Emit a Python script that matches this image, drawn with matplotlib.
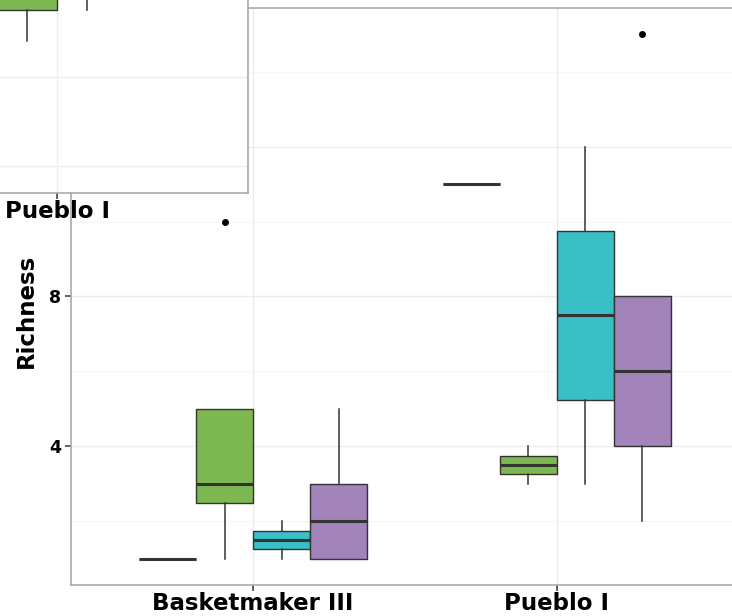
import matplotlib
matplotlib.use("Agg")
import matplotlib.pyplot as plt
from matplotlib.lines import Line2D
from matplotlib.ticker import MultipleLocator

plt.rcParams['font.family'] = ['DejaVu Sans']

# ---------------- data ----------------
categories = ['Basketmaker III', 'Pueblo I']
groups = ['Group A', 'Group B', 'Group C', 'Group D']
group_colors = ['#F8766D', '#7CB750', '#39BFC5', '#A283BA']

# per group: [Basketmaker III, Pueblo I]
q1 = {'Group A': [1.0, 11.0], 'Group B': [2.5, 3.25], 'Group C': [1.25, 5.25], 'Group D': [1.0, 4.0]}
med = {'Group A': [1.0, 11.0], 'Group B': [3.0, 3.5], 'Group C': [1.5, 7.5], 'Group D': [2.0, 6.0]}
q3 = {'Group A': [1.0, 11.0], 'Group B': [5.0, 3.75], 'Group C': [1.75, 9.75], 'Group D': [3.0, 8.0]}
whislo = {'Group A': [1.0, 11.0], 'Group B': [1.0, 3.0], 'Group C': [1.0, 3.0], 'Group D': [1.0, 2.0]}
whishi = {'Group A': [1.0, 11.0], 'Group B': [5.0, 4.0], 'Group C': [2.0, 12.0], 'Group D': [5.0, 8.0]}
fliers = {'Group A': [[], []], 'Group B': [[10.0], []], 'Group C': [[], []], 'Group D': [[], [15.0]]}

y_ticks = [4, 8, 12]
y_label = 'Richness'

# inset panel (partially visible, Pueblo I only)
inset_tick_labels = ['', 'Pueblo I']
inset_groups = ['Group B', 'Group C', 'Group D']
inset_q1 = [13.5, 15.0, 15.5]
inset_med = [14.8, 16.0, 16.5]
inset_q3 = [16.0, 17.0, 17.5]
inset_whislo = [12.8, 13.5, 15.0]
inset_whishi = [17.0, 18.0, 18.5]

# ---------------- style ----------------
EDGE = '#333333'
SPINE = '#a3a3a3'
GRID_MAJ = '#ededed'
GRID_MIN = '#f6f6f6'
FS_TICK_Y = 12.5
FS_TICK_X = 16.5
FS_LABEL = 16.5
WEIGHT = 'bold'
box_w = 0.75 / 4
offsets = [(-1.5 + i) * box_w for i in range(4)]

W, H = 732, 616
fig = plt.figure(figsize=(W / 100, H / 100), dpi=100)
fig.patch.set_facecolor('white')


def fx(px):
    return px / W


def fy(py):
    return 1 - py / H


def draw_box(ax, stats, pos, color):
    b = ax.bxp([stats], positions=[pos], widths=box_w, patch_artist=True,
               showcaps=False, manage_ticks=False,
               boxprops=dict(facecolor=color, edgecolor=EDGE, linewidth=1.0),
               medianprops=dict(color=EDGE, linewidth=2.2, solid_capstyle='butt'),
               whiskerprops=dict(color=EDGE, linewidth=1.1),
               flierprops=dict(marker='o', markerfacecolor='black', markeredgecolor='black',
                               markersize=4, linestyle='none'))
    for art in b['boxes'] + b['medians'] + b['whiskers'] + b['fliers']:
        art.set_zorder(3)
    return b


# ---------------- main axes ----------------
ax = fig.add_axes([fx(71), fy(585), fx(739 - 71), (585 - 8) / H], zorder=0)
ax.set_facecolor('white')
ax.set_xlim(0.4, 2.6)
ax.set_ylim(0.3, 15.7)

for gi, g in enumerate(groups):
    for ci in range(len(categories)):
        st = dict(med=med[g][ci], q1=q1[g][ci], q3=q3[g][ci],
                  whislo=whislo[g][ci], whishi=whishi[g][ci], fliers=fliers[g][ci])
        draw_box(ax, st, ci + 1 + offsets[gi], group_colors[gi])

ax.set_xticks([1, 2])
ax.set_xticklabels(categories, fontsize=FS_TICK_X, fontweight=WEIGHT, color='black')
ax.set_yticks(y_ticks)
ax.set_yticklabels([str(v) for v in y_ticks], fontsize=FS_TICK_Y, fontweight=WEIGHT, color='black')
ax.yaxis.set_minor_locator(MultipleLocator(2))
ax.tick_params(axis='y', which='minor', length=0)
ax.tick_params(axis='both', which='major', length=4, width=1.1, color=EDGE, pad=3)
ax.tick_params(axis='x', pad=1)
ax.grid(True, which='major', axis='both', color=GRID_MAJ, linewidth=1.0)
ax.grid(True, which='minor', axis='y', color=GRID_MIN, linewidth=0.8)
ax.set_axisbelow(True)
for s in ['top', 'right', 'bottom']:
    ax.spines[s].set_color(SPINE)
    ax.spines[s].set_linewidth(1.1)
ax.spines['left'].set_visible(False)

# y-axis title
fig.text(fx(26), fy(311), y_label, rotation=90, ha='center', va='center',
         fontsize=FS_LABEL, fontweight=WEIGHT, color='black')

# ---------------- inset axes (cropped) ----------------
ins = fig.add_axes([fx(-452), fy(193), fx(700), (193 + 40) / H], zorder=1)
ins.set_facecolor('white')
ins.set_xlim(0.4, 2.6)
yl_lo = 12 - (193 - 77) / 44.5
yl_hi = 12 + (77 + 40) / 44.5
ins.set_ylim(yl_lo, yl_hi)
for i, g in enumerate(inset_groups):
    gi = groups.index(g)
    st = dict(med=inset_med[i], q1=inset_q1[i], q3=inset_q3[i],
              whislo=inset_whislo[i], whishi=inset_whishi[i], fliers=[])
    draw_box(ins, st, 2 + offsets[gi], group_colors[gi])
ins.set_xticks([1, 2])
ins.set_xticklabels(inset_tick_labels, fontsize=FS_TICK_X, fontweight=WEIGHT, color='black')
ins.set_yticks([10, 12, 14])
ins.set_yticklabels([])
ins.tick_params(axis='both', which='major', length=4, width=1.1, color=EDGE)
ins.tick_params(axis='x', pad=1)
ins.grid(True, which='major', axis='both', color=GRID_MAJ, linewidth=1.0)
ins.set_axisbelow(True)
for s in ins.spines.values():
    s.set_color(SPINE)
    s.set_linewidth(1.1)

# main left spine drawn on top (visible below the inset)
fig.add_artist(Line2D([fx(71), fx(71)], [fy(585), fy(193)], transform=fig.transFigure,
                      color=SPINE, linewidth=1.1, zorder=5))

fig.savefig('out.png', dpi=100, facecolor='white')
